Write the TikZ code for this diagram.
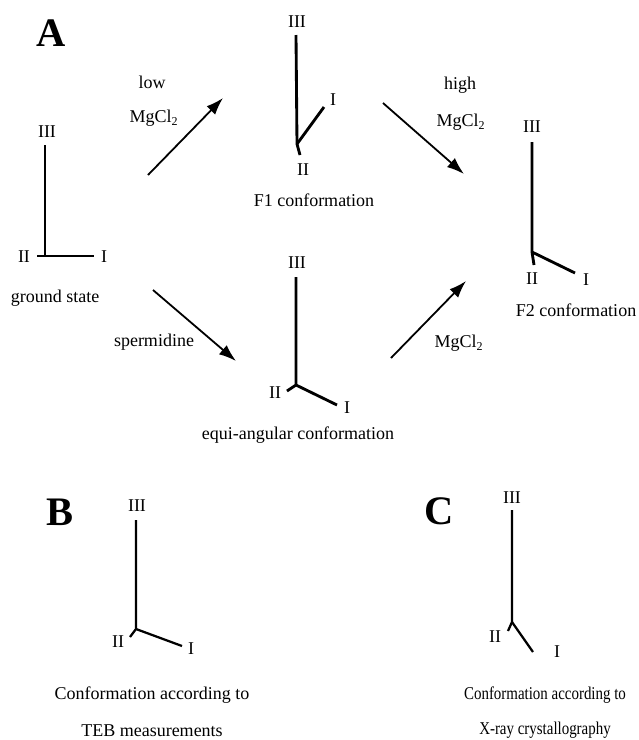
\documentclass[tikz,border=0pt]{standalone}
\usepackage{fontspec}
\setmainfont{Liberation Serif}
\usetikzlibrary{arrows.meta}

\begin{document}
\begin{tikzpicture}[x=0.6667pt,y=-0.6667pt,
  panel/.style={font=\fontsize{27}{30}\selectfont\bfseries,inner sep=0pt},
  arm/.style={line width=1.9pt},
  thinarm/.style={line width=1.5pt},
  numeral/.style={font=\fontsize{12}{14}\selectfont,inner sep=0pt},
  caption/.style={font=\fontsize{12}{14}\selectfont,inner sep=0pt},
  arrow/.style={-{Latex[length=11.5pt,width=8pt]},line width=1.2pt}
]
\useasboundingbox (0,0) rectangle (639,740);

% panel letters
\node[panel] (pA) at (51,33) {A};
\node[panel] (pB) at (60,512) {B};
\node[panel] (pC) at (439,511) {C};

% ground state
\coordinate (g0) at (45,256);
\coordinate (g3) at (45,145);
\coordinate (g2) at (37,256);
\coordinate (g1) at (94,256);
\draw[arm] (g3) -- (g0);
\draw[arm] (g2) -- (g1);
\node[numeral] (g3l) at (47,132) {III};
\node[numeral] (g2l) at (24,257) {II};
\node[numeral] (g1l) at (104,257) {I};
\node[caption] (gcap) at (55,298) {ground state};

% F1 conformation
\coordinate (f0) at (297,144);
\coordinate (f3) at (296,35);
\coordinate (f2) at (300,155);
\coordinate (f1) at (324,107);
\draw[arm] (f3) -- (f0) -- (f2);
\draw[arm] (f0) -- (f1);
\node[numeral] (f3l) at (297,22) {III};
\node[numeral] (f2l) at (303,170) {II};
\node[numeral] (f1l) at (333,100) {I};
\node[caption] (fcap) at (314,200) {F1 conformation};

% F2 conformation
\coordinate (h0) at (532,252);
\coordinate (h3) at (532,142);
\coordinate (h2) at (534,265);
\coordinate (h1) at (575,273);
\draw[arm] (h3) -- (h0) -- (h2);
\draw[arm] (h0) -- (h1);
\node[numeral] (h3l) at (532,127) {III};
\node[numeral] (h2l) at (532,279) {II};
\node[numeral] (h1l) at (586,280) {I};
\node[caption] (hcap) at (576,310) {F2 conformation};

% equi-angular conformation
\coordinate (e0) at (296,385);
\coordinate (e3) at (296,277);
\coordinate (e2) at (287,391);
\coordinate (e1) at (337,405);
\draw[arm] (e3) -- (e0) -- (e2);
\draw[arm] (e0) -- (e1);
\node[numeral] (e3l) at (297,263) {III};
\node[numeral] (e2l) at (275,393) {II};
\node[numeral] (e1l) at (347,408) {I};
\node[caption] (ecap) at (298,435) {equi-angular conformation};

% transitions
\coordinate (a1s) at (148,175);
\coordinate (a1e) at (223,98);
\coordinate (a2s) at (383,103);
\coordinate (a2e) at (464,174);
\coordinate (a3s) at (153,290);
\coordinate (a3e) at (236,361);
\coordinate (a4s) at (391,358);
\coordinate (a4e) at (466,281);
\draw[arrow] (a1s) -- (a1e);
\draw[arrow] (a2s) -- (a2e);
\draw[arrow] (a3s) -- (a3e);
\draw[arrow] (a4s) -- (a4e);
\node[caption] (t1a) at (152,82) {low};
\node[caption] (t1b) at (154,118) {MgCl\textsubscript{2}};
\node[caption] (t2a) at (460,85) {high};
\node[caption] (t2b) at (461,122) {MgCl\textsubscript{2}};
\node[caption] (t3) at (154,342) {spermidine};
\node[caption] (t4) at (459,343) {MgCl\textsubscript{2}};

% B: TEB
\coordinate (b0) at (136,629);
\coordinate (b3) at (136,520);
\coordinate (b2) at (130,637);
\coordinate (b1) at (182,646);
\draw[thinarm] (b3) -- (b0) -- (b2);
\draw[thinarm] (b0) -- (b1);
\node[numeral] (b3l) at (137,506) {III};
\node[numeral] (b2l) at (118,642) {II};
\node[numeral] (b1l) at (191,649) {I};
\node[caption] (bcap1) at (152,695) {Conformation according to};
\node[caption] (bcap2) at (152,731) {TEB measurements};

% C: X-ray
\coordinate (c0) at (512,622);
\coordinate (c3) at (512,510);
\coordinate (c2) at (508,631);
\coordinate (c1) at (533,652);
\draw[thinarm] (c3) -- (c0) -- (c2);
\draw[thinarm] (c0) -- (c1);
\node[numeral] (c3l) at (512,498) {III};
\node[numeral] (c2l) at (495,637) {II};
\node[numeral] (c1l) at (557,652) {I};
\node[caption] (ccap1) at (545,695) {\scalebox{0.83}[1]{Conformation according to}};
\node[caption] (ccap2) at (545,730) {\scalebox{0.83}[1]{X-ray crystallography}};
\end{tikzpicture}
\end{document}
